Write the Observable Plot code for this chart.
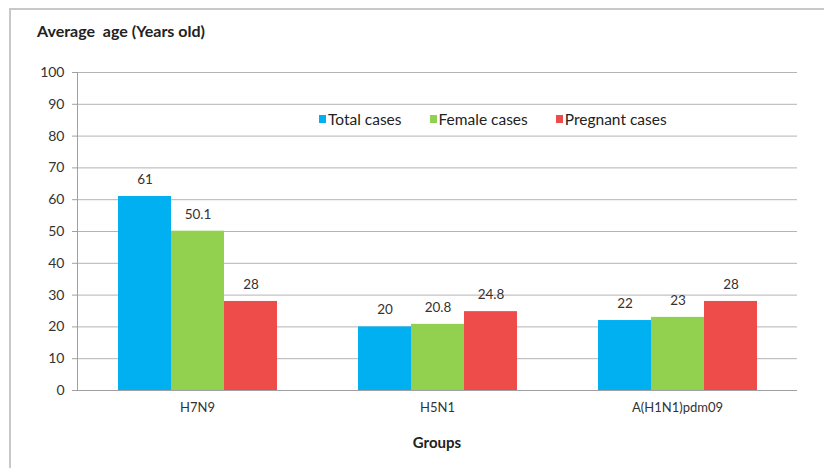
<!DOCTYPE html>
<html>
<head>
<meta charset="utf-8">
<script src="https://cdn.jsdelivr.net/npm/d3@7"></script>
<script src="https://cdn.jsdelivr.net/npm/@observablehq/plot@0.6"></script>
<style>
  html, body { margin: 0; padding: 0; background: #fff; }
  #wrap { position: relative; width: 824px; height: 468px; overflow: hidden; font-family: Lato, "Open Sans", sans-serif; color: #222; }
  #border { position: absolute; left: 9px; top: 8px; width: 840px; height: 480px; border: 2px solid #c8c8c8; box-sizing: border-box; }
  #chart { position: absolute; left: 0; top: 0; }
  #title { position: absolute; left: 37px; top: 21px; font-weight: bold; font-size: 16px; white-space: pre; }
  #xlabel { position: absolute; left: 0; width: 874px; top: 433px; text-align: center; font-weight: bold; font-size: 15px; }
  #legend { position: absolute; left: 319px; top: 110px; font-size: 15.5px; display: flex; gap: 0; }
  .item { display: flex; align-items: center; margin-right: 28px; }
  .sw { width: 7px; height: 8px; margin-right: 2px; }
</style>
</head>
<body>
<div id="wrap">
  <div id="border"></div>
  <div id="chart"></div>
  <div id="title">Average  age (Years old)</div>
  <div id="legend"></div>
  <div id="xlabel">Groups</div>
</div>
<script>
const groups = ["H7N9", "H5N1", "A(H1N1)pdm09"];
const series = ["Total cases", "Female cases", "Pregnant cases"];
const totalCases = [61, 20, 22];
const femaleCases = [50.1, 20.8, 23];
const pregnantCases = [28, 24.8, 28];
const yTicks = [0, 10, 20, 30, 40, 50, 60, 70, 80, 90, 100];
const colors = ["#00b0f0", "#92d050", "#ee4b4b"];

const seriesValues = [totalCases, femaleCases, pregnantCases];
const data = [];
groups.forEach((g, gi) => {
  series.forEach((s, si) => {
    data.push({ group: g, series: s, value: seriesValues[si][gi] });
  });
});

const plot = Plot.plot({
  width: 824,
  height: 468,
  marginLeft: 77,
  marginRight: 27,
  marginTop: 72,
  marginBottom: 78,
  style: { fontFamily: "Lato, 'Open Sans', sans-serif", fontSize: "14px", background: "transparent" },
  fx: { domain: groups, padding: 0, label: null },
  x: { domain: series, paddingInner: 0, paddingOuter: 0.75, axis: null },
  y: { domain: [0, 100], axis: null },
  color: { domain: series, range: colors },
  marks: [
    Plot.gridY(yTicks, { stroke: "#b4b4b4", strokeOpacity: 1 }),
    Plot.frame({ anchor: "left", facetAnchor: "left", stroke: "#a0a0a0" }),
    Plot.ruleY([0], { stroke: "#a0a0a0" }),
    Plot.barY(data, { fx: "group", x: "series", y: "value", fill: "series" }),
    Plot.text(data, { fx: "group", x: "series", y: "value", text: d => String(d.value), dy: -17, fontSize: 13.5, fill: "#333" }),
    Plot.axisY(yTicks, { tickSize: 5, tickPadding: 8, fontSize: 14, fill: "#333", stroke: "#a0a0a0", label: null }),
    Plot.axisFx({ anchor: "bottom", tickSize: 0, tickPadding: 12, fontSize: 13, fill: "#333", label: null })
  ]
});
document.getElementById("chart").appendChild(plot);

const legend = document.getElementById("legend");
series.forEach((s, i) => {
  const item = document.createElement("div");
  item.className = "item";
  const sw = document.createElement("div");
  sw.className = "sw";
  sw.style.background = colors[i];
  const t = document.createElement("span");
  t.textContent = s;
  item.appendChild(sw);
  item.appendChild(t);
  legend.appendChild(item);
});
</script>
</body>
</html>
